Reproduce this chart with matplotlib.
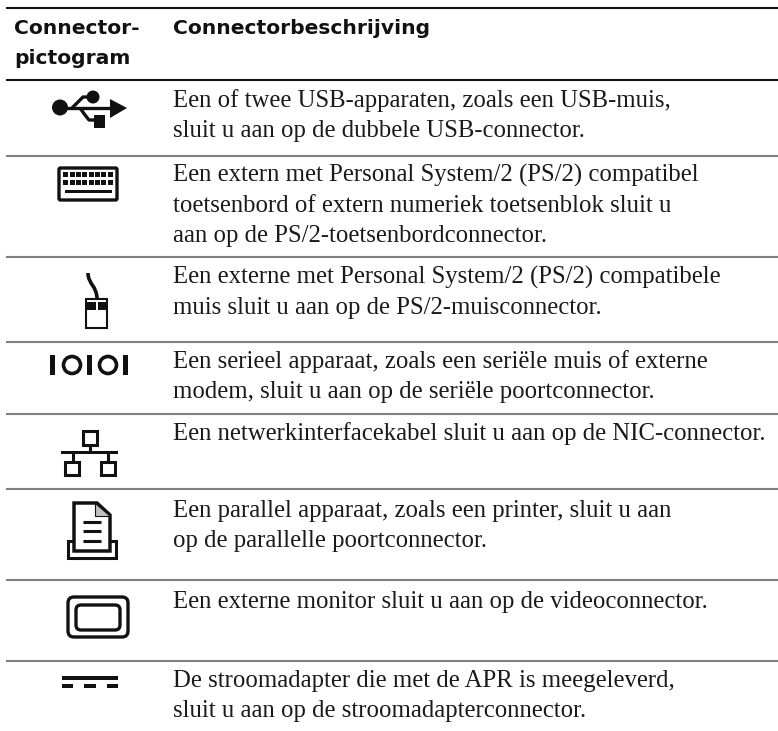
import matplotlib
matplotlib.use('Agg')
import matplotlib.pyplot as plt
from matplotlib.patches import Rectangle, Circle, Polygon, FancyBboxPatch, PathPatch
from matplotlib.path import Path

# Table text
header_left = ['Connector-', 'pictogram']
header_right = 'Connectorbeschrijving'
row_texts = [
    ['Een of twee USB-apparaten, zoals een USB-muis,',
     'sluit u aan op de dubbele USB-connector.'],
    ['Een extern met Personal System/2 (PS/2) compatibel',
     'toetsenbord of extern numeriek toetsenblok sluit u',
     'aan op de PS/2-toetsenbordconnector.'],
    ['Een externe met Personal System/2 (PS/2) compatibele',
     'muis sluit u aan op de PS/2-muisconnector.'],
    ['Een serieel apparaat, zoals een seriële muis of externe',
     'modem, sluit u aan op de seriële poortconnector.'],
    ['Een netwerkinterfacekabel sluit u aan op de NIC-connector.'],
    ['Een parallel apparaat, zoals een printer, sluit u aan',
     'op de parallelle poortconnector.'],
    ['Een externe monitor sluit u aan op de videoconnector.'],
    ['De stroomadapter die met de APR is meegeleverd,',
     'sluit u aan op de stroomadapterconnector.'],
]
row_tops = [80, 156, 257, 342, 414, 489, 580, 661]

INK = '#111111'
GREY = '#7f7f7f'

fig = plt.figure(figsize=(7.78, 7.31), dpi=100)
ax = fig.add_axes([0, 0, 1, 1])
ax.set_xlim(0, 778)
ax.set_ylim(731, 0)
ax.axis('off')


def rect(x0, y0, x1, y1, fc=INK, ec='none', lw=0):
    ax.add_patch(Rectangle((x0, y0), x1 - x0, y1 - y0, fc=fc, ec=ec, lw=lw))


def rounded(x0, y0, x1, y1, r, fc='white', lw=2.0):
    ax.add_patch(FancyBboxPatch((x0 + r, y0 + r), x1 - x0 - 2 * r, y1 - y0 - 2 * r,
                                boxstyle='round,pad=%g,rounding_size=%g' % (r, r),
                                fc=fc, ec=INK, lw=lw))


def line(xs, ys, lw=2.0):
    ax.plot(xs, ys, color=INK, lw=lw, solid_capstyle='butt')


# Rules
ax.plot([7, 778], [8, 8], color=INK, lw=1.5)
ax.plot([7, 778], [80, 80], color=INK, lw=1.5)
for y in row_tops[1:]:
    ax.plot([7, 778], [y, y], color=GREY, lw=1.5)

# Headers
head_font = dict(family='DejaVu Sans', weight='bold', fontsize=14.6, color=INK, va='baseline')
ax.text(14, 34, header_left[0], **head_font)
ax.text(14, 64, header_left[1], **head_font)
ax.text(173, 34, header_right, **head_font)

# Body text
first_base = [27, 26, 27, 26, 26, 28, 28, 26]
body_font = dict(family='Liberation Serif', fontsize=17.8, color='#1a1a1a', va='baseline')
for top, off, lines in zip(row_tops, first_base, row_texts):
    for i, t in enumerate(lines):
        ax.text(173, top + off + i * 30, t, **body_font)

# USB
ax.add_patch(Circle((60, 107.5), 8, fc=INK))
line([60, 112], [108, 108], 2.4)
ax.add_patch(Polygon([(110, 99), (127, 108), (110, 118)], fc=INK))
line([72, 78, 83, 92], [108, 102, 97, 97], 2.4)
ax.add_patch(Circle((93, 97), 6.5, fc=INK))
line([80, 85, 89, 96], [108, 115, 120, 120], 2.4)
rect(94, 115, 105, 128)

# Keyboard
rounded(59, 168, 117, 200, 1.5, lw=2.4)
for y0 in (172, 180):
    for k in range(8):
        rect(63.5 + k * 6.3, y0, 68.5 + k * 6.3, y0 + 5)
rect(65, 190, 112, 193)

# Mouse
ax.add_patch(PathPatch(Path([(88, 273), (88, 284), (97, 286), (97, 299)],
                            [Path.MOVETO, Path.CURVE4, Path.CURVE4, Path.CURVE4]),
                       fc='none', ec=INK, lw=2.6))
rect(86, 299, 107, 328, fc='white', ec=INK, lw=1.5)
rect(87, 302, 96, 310)
rect(98, 302, 106, 310)

# Serial 10101
for x in (53, 90, 126):
    rect(x - 2.5, 355, x + 2.5, 375)
for x in (72, 108):
    ax.add_patch(Circle((x, 365), 8.5, fc='white', ec=INK, lw=2.6))

# Network
rect(83, 431, 97, 445, fc='white', ec=INK, lw=2.2)
line([90, 90], [445, 452], 2.2)
rect(61, 451, 118, 453.5)
line([73, 73], [452, 462], 2.2)
line([108, 108], [452, 462], 2.2)
rect(65, 462, 79, 475, fc='white', ec=INK, lw=2.2)
rect(101, 462, 115, 475, fc='white', ec=INK, lw=2.2)

# Parallel printer
rect(68, 541, 116, 558, fc='white', ec=INK, lw=2.2)
ax.add_patch(Polygon([(74, 503), (97, 503), (110, 515), (110, 551), (74, 551)],
                     fc='white', ec=INK, lw=2.5))
ax.add_patch(Polygon([(95, 503), (95, 516), (110, 516)], fc='#c0c0c0', ec=INK, lw=0.8))
for y in (522, 531, 541):
    line([83, 101], [y, y], 2.2)

# Monitor
rounded(68, 597, 128, 637, 6, lw=2.4)
rounded(76, 605, 120, 630, 5, lw=2.4)

# Power adapter
rect(62, 676, 118, 679.5)
for x0, x1 in ((62, 73), (84, 96), (107, 118)):
    rect(x0, 684, x1, 688)

fig.savefig('out.png', dpi=100)
